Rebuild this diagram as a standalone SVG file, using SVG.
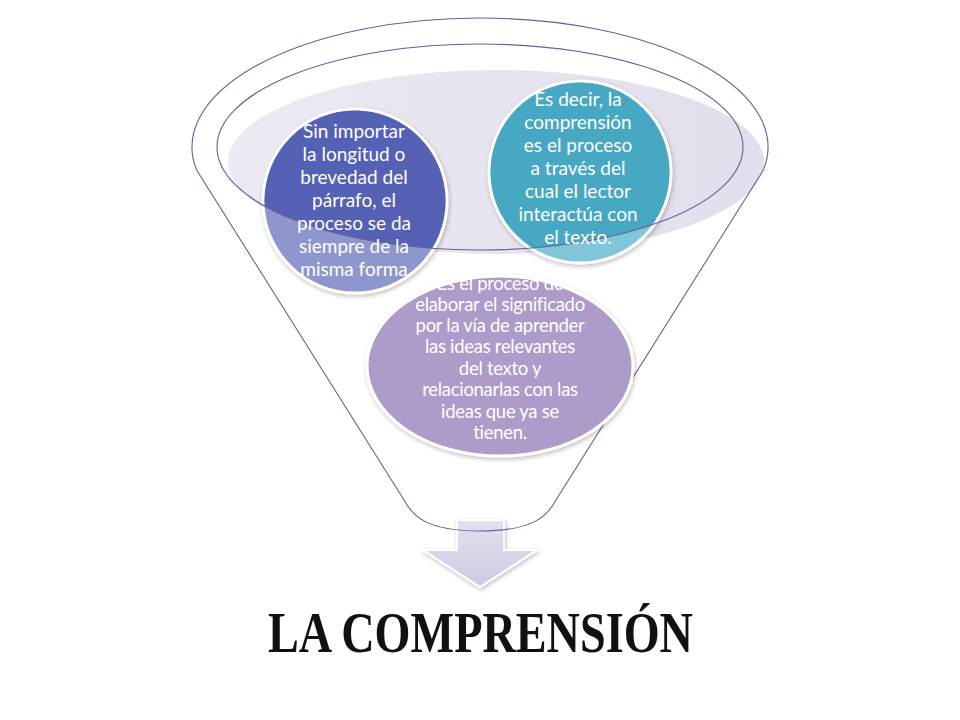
<svg xmlns="http://www.w3.org/2000/svg" width="960" height="720" viewBox="0 0 960 720">
<style>
.outline{fill:none;stroke:#6E5C9C;stroke-width:1.1}
.node{stroke:#fff;stroke-width:3;filter:url(#sh)}
.t{font-family:Lato,"Liberation Sans",sans-serif;fill:#fff;text-anchor:middle}
.t1{font-size:19px}
.t2{font-size:18.5px;letter-spacing:-0.3px}
.title{font-family:"Liberation Serif","DejaVu Serif",serif;font-weight:bold;font-size:56px;fill:#111;text-anchor:middle}
</style>
<defs>
<filter id="sh" x="-20%" y="-20%" width="140%" height="140%">
<feDropShadow dx="1" dy="2" stdDeviation="2" flood-color="#000" flood-opacity="0.25"/>
</filter>
<linearGradient id="rim" x1="0" y1="0" x2="1" y2="0">
<stop offset="0" stop-color="#EDEAF3"/>
<stop offset="1" stop-color="#E2DEEC"/>
</linearGradient>
<linearGradient id="arr" x1="0" y1="0" x2="0" y2="1">
<stop offset="0" stop-color="#E4E0EF"/>
<stop offset="1" stop-color="#CFC9E1"/>
</linearGradient>
<clipPath id="inner"><ellipse cx="480" cy="147" rx="263" ry="103"/></clipPath>
</defs>
<rect width="960" height="720" fill="#fff"/>
<g id="rim-fill">
<ellipse cx="496" cy="162" rx="268" ry="92" fill="url(#rim)"/>
</g>
<g id="arrow">
<polygon points="457,520 504,520 504,550 537,550 480,587 423,550 457,550" fill="url(#arr)" stroke="#fff" stroke-width="2" filter="url(#sh)"/>
</g>
<g id="connectors">
<path class="outline" d="M 196.6,170 A 288 129 0 1 1 763.4,170 L 556,500 C 548,515 535,531 480,531 C 425,531 412,515 404,500 Z"/>
</g>
<g id="node-blue">
<circle class="node" cx="355" cy="201" r="92" fill="#8F96CE"/>
<circle cx="355" cy="201" r="90.5" fill="#5461B4" clip-path="url(#inner)"/>
</g>
<g id="node-teal">
<circle class="node" cx="580" cy="172" r="91" fill="#80C5D9"/>
<circle cx="580" cy="172" r="89.5" fill="#47A8C4" clip-path="url(#inner)"/>
</g>
<g id="node-purple">
<ellipse class="node" cx="500" cy="366" rx="133" ry="90" fill="#AD9BC9"/>
</g>
<g id="inner-rim">
<ellipse class="outline" cx="480" cy="147" rx="263" ry="103"/>
</g>
<g id="text-blue" class="t t1">
<text x="354" y="138">Sin importar</text>
<text x="354" y="161">la longitud o</text>
<text x="354" y="184">brevedad del</text>
<text x="354" y="207">párrafo, el</text>
<text x="354" y="230">proceso se da</text>
<text x="354" y="253">siempre de la</text>
<text x="354" y="276">misma forma</text>
</g>
<g id="text-teal" class="t t1">
<text x="578" y="106">Es decir, la</text>
<text x="578" y="129">comprensión</text>
<text x="578" y="152">es el proceso</text>
<text x="578" y="175">a través del</text>
<text x="578" y="198">cual el lector</text>
<text x="578" y="221">interactúa con</text>
<text x="578" y="244">el texto.</text>
</g>
<g id="text-purple" class="t t2">
<text x="500" y="290">Es el proceso de</text>
<text x="500" y="311">elaborar el significado</text>
<text x="500" y="332">por la vía de aprender</text>
<text x="500" y="353">las ideas relevantes</text>
<text x="500" y="375">del texto y</text>
<text x="500" y="396">relacionarlas con las</text>
<text x="500" y="418">ideas que ya se</text>
<text x="500" y="439">tienen.</text>
</g>
<g id="title">
<text class="title" x="480.5" y="652" textLength="425" lengthAdjust="spacingAndGlyphs">LA COMPRENSIÓN</text>
</g>
</svg>
